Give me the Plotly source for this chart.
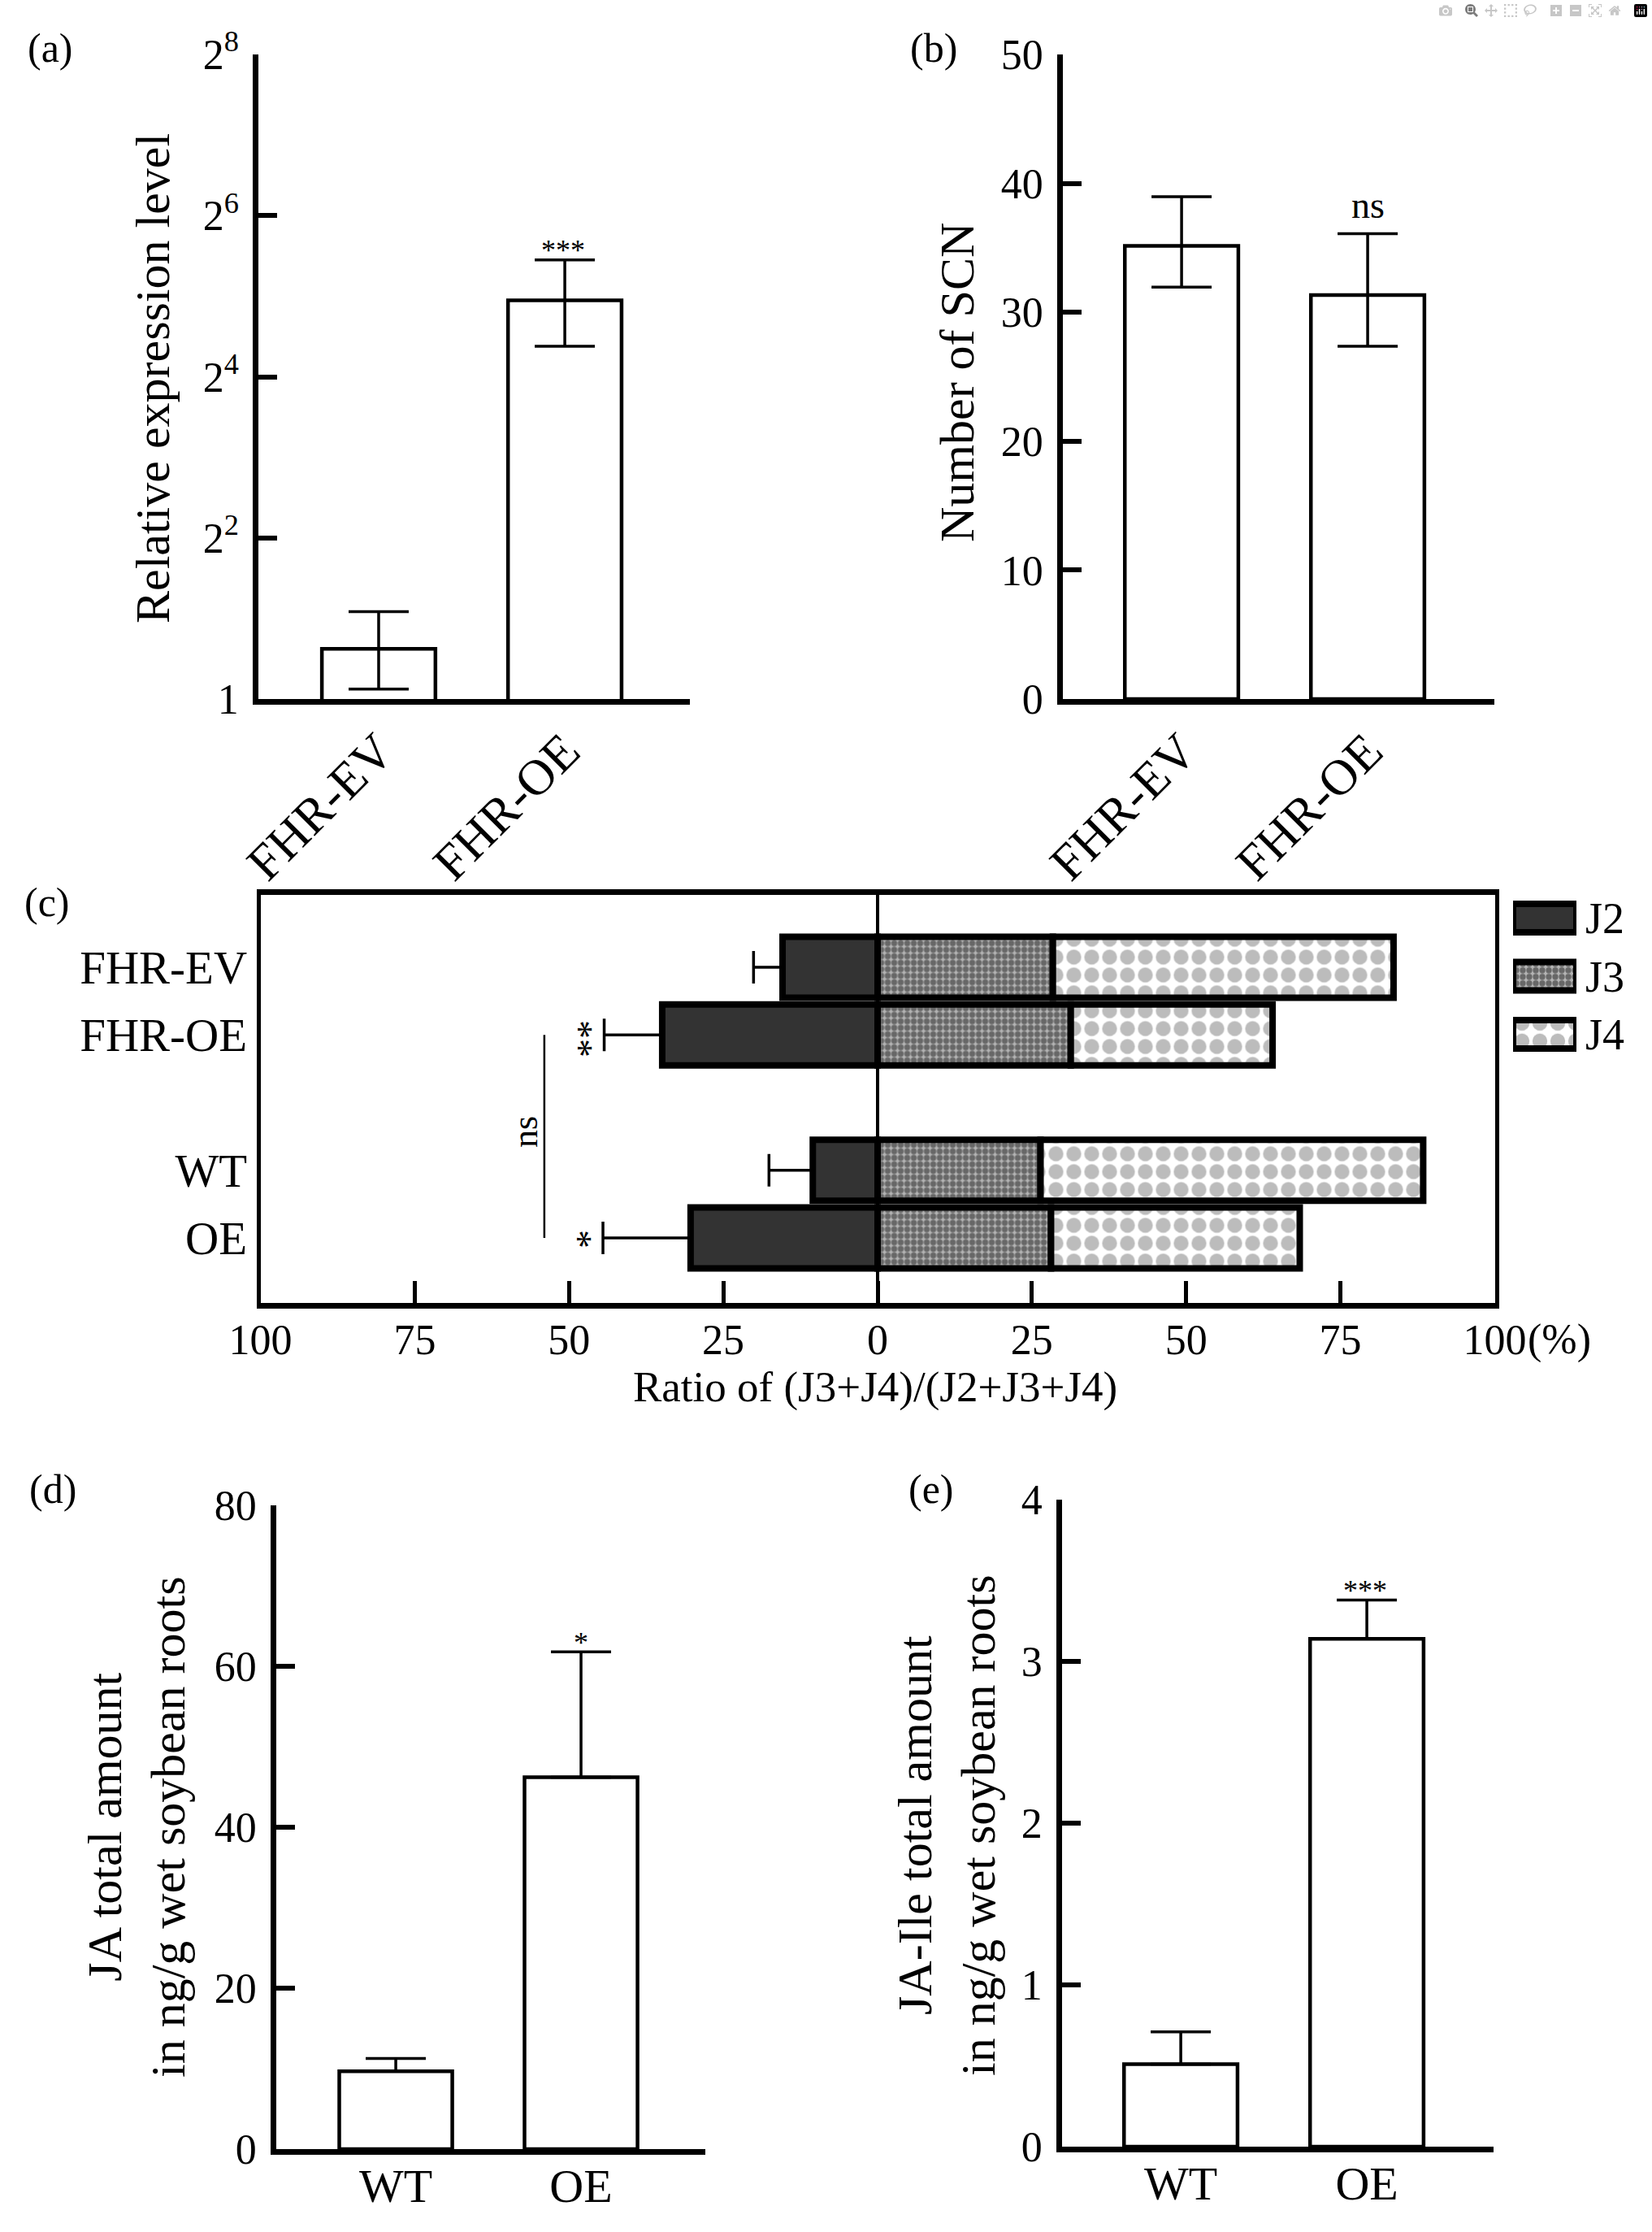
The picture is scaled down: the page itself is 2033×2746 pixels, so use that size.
import plotly.graph_objects as go

W, H = 2033, 2746
FONT = "Liberation Serif, Times New Roman, serif"

# ---------------- data ----------------
# (a) relative expression (log2 axis)
cats_ab = ["FHR-EV", "FHR-OE"]
a_vals = [1.54, 30.9]
a_err_hi = [2.12, 43.7]
a_err_lo = [1.09, 20.8]
a_ticks = [1, 4, 16, 64, 256]
a_ticktext = ["1", "2<sup>2</sup>", "2<sup>4</sup>", "2<sup>6</sup>", "2<sup>8</sup>"]

# (b) number of SCN
b_vals = [35.15, 31.34]
b_err_hi = [38.96, 36.1]
b_err_lo = [31.95, 27.36]

# (c) nematode stages (%)
c_cats = ["FHR-EV", "FHR-OE", " ", "WT", "OE"]
c_groups = ["FHR-EV", "FHR-OE", "WT", "OE"]
J2 = [15.4, 34.9, 10.5, 30.3]
J2_err = [4.7, 9.4, 7.1, 14.2]
J3 = [28.4, 31.3, 26.4, 28.1]
J4 = [55.2, 32.7, 62.0, 40.3]
c_tickvals = [-100, -75, -50, -25, 0, 25, 50, 75, 100]
c_ticktext = ["100", "75", "50", "25", "0", "25", "50", "75", "100"]
legend_names = ["J2", "J3", "J4"]
legend_swatch = [1]

# (d) JA
cats_de = ["WT", "OE"]
d_vals = [9.67, 46.2]
d_err = [1.6, 15.6]

# (e) JA-Ile
e_vals = [0.51, 3.14]
e_err = [0.20, 0.24]


def px(x):
    return x / W


def py(y):
    return 1 - y / H


def dom_x(a, b):
    return [px(a), px(b)]


def dom_y(top, bottom):
    return [py(bottom), py(top)]


bar_line = dict(color="black", width=4.5)
J3_pattern = dict(shape=".", bgcolor="#b4b4b4", fgcolor="#1a1a1a", size=8, solidity=0.65)
J4_pattern = dict(shape=".", bgcolor="white", fgcolor="#7a7a7a", size=22, solidity=0.55)

fig = go.Figure()

# (a)
fig.add_trace(go.Bar(
    x=cats_ab, y=a_vals, xaxis="x", yaxis="y", width=0.61,
    marker=dict(color="white", line=bar_line),
    error_y=dict(type="data", symmetric=False,
                 array=[h - v for h, v in zip(a_err_hi, a_vals)],
                 arrayminus=[v - l for l, v in zip(a_err_lo, a_vals)],
                 color="black", thickness=3.5, width=37),
    showlegend=False))

# (b)
fig.add_trace(go.Bar(
    x=cats_ab, y=b_vals, xaxis="x2", yaxis="y2", width=0.61,
    marker=dict(color="white", line=bar_line),
    error_y=dict(type="data", symmetric=False,
                 array=[h - v for h, v in zip(b_err_hi, b_vals)],
                 arrayminus=[v - l for l, v in zip(b_err_lo, b_vals)],
                 color="black", thickness=3.5, width=37),
    showlegend=False))

# (c)
fig.add_trace(go.Bar(
    y=c_groups, x=[-v for v in J2], orientation="h", xaxis="x3", yaxis="y3", width=0.9,
    marker=dict(color="#333333", line=dict(color="black", width=8)),
    error_x=dict(type="data", symmetric=False, array=[0] * len(J2), arrayminus=J2_err,
                 color="black", thickness=3.5, width=20),
    showlegend=False, name="J2"))
fig.add_trace(go.Bar(
    y=c_groups, x=J3, orientation="h", xaxis="x3", yaxis="y3", width=0.9,
    marker=dict(color="#b4b4b4", pattern=J3_pattern, line=dict(color="black", width=8)),
    showlegend=False, name="J3"))
fig.add_trace(go.Bar(
    y=c_groups, x=J4, orientation="h", xaxis="x3", yaxis="y3", width=0.9,
    marker=dict(color="white", pattern=J4_pattern, line=dict(color="black", width=8)),
    showlegend=False, name="J4"))

# legend swatches for (c)
leg_markers = [
    dict(color="#333333", line=dict(color="black", width=8)),
    dict(color="#b4b4b4", pattern=J3_pattern, line=dict(color="black", width=8)),
    dict(color="white", pattern=J4_pattern, line=dict(color="black", width=8)),
]
for nm, mk in zip(legend_names, leg_markers):
    fig.add_trace(go.Bar(y=[nm], x=legend_swatch, orientation="h", xaxis="x6", yaxis="y6",
                         width=0.49, marker=mk, showlegend=False))

# (d)
fig.add_trace(go.Bar(
    x=cats_de, y=d_vals, xaxis="x4", yaxis="y4", width=0.61,
    marker=dict(color="white", line=bar_line),
    error_y=dict(type="data", symmetric=False, array=d_err, arrayminus=[0, 0],
                 color="black", thickness=3.5, width=37),
    showlegend=False))

# (e)
fig.add_trace(go.Bar(
    x=cats_de, y=e_vals, xaxis="x5", yaxis="y5", width=0.61,
    marker=dict(color="white", line=bar_line),
    error_y=dict(type="data", symmetric=False, array=e_err, arrayminus=[0, 0],
                 color="black", thickness=3.5, width=37),
    showlegend=False))

axis_common = dict(showgrid=False, zeroline=False, showline=True, linecolor="black",
                   color="black", automargin=False)
ytick_font = dict(family=FONT, size=52, color="black")
xcat_font = dict(family=FONT, size=62, color="black")


def yax(domain, anchor, **kw):
    d = dict(axis_common, domain=domain, anchor=anchor, linewidth=6.5, ticks="inside",
             ticklen=23, tickwidth=6, tickcolor="black", tickfont=ytick_font,
             ticklabelstandoff=7)
    d.update(kw)
    return d


def xax(domain, anchor, rng, **kw):
    d = dict(axis_common, domain=domain, anchor=anchor, linewidth=6.5, ticks="",
             range=rng, tickfont=xcat_font)
    d.update(kw)
    return d


fig.update_layout(
    width=W, height=H, margin=dict(l=0, r=0, t=0, b=0, autoexpand=False),
    paper_bgcolor="white", plot_bgcolor="rgba(0,0,0,0)",
    barmode="relative", font=dict(family=FONT, color="black"),
    # (a)
    xaxis=xax(dom_x(318, 849), "y", [-0.646, 1.672], tickangle=-45, ticklabelstandoff=-4),
    yaxis=yax(dom_y(67, 860), "x", type="log", range=[0, 2.40824],
              tickvals=a_ticks, ticktext=a_ticktext),
    # (b)
    xaxis2=xax(dom_x(1308, 1839), "y2", [-0.638, 1.681], tickangle=-45, ticklabelstandoff=-4),
    yaxis2=yax(dom_y(67, 860), "x2", range=[0, 50], dtick=10, tick0=0),
    # (c)
    xaxis3=dict(axis_common, domain=dom_x(320.5, 1839.5), anchor="y3", range=[-100, 100],
                linewidth=7, mirror=True, ticks="inside", ticklen=27, tickwidth=5,
                tickcolor="black", tickvals=c_tickvals, ticktext=c_ticktext,
                tickfont=dict(family=FONT, size=52, color="black"),
                zeroline=True, zerolinecolor="black", zerolinewidth=3.5,
                ticklabelstandoff=-6),
    yaxis3=dict(axis_common, domain=dom_y(1100.5, 1602.5), anchor="x3", type="category",
                categoryorder="array", categoryarray=c_cats, range=[4.955, -1.075],
                linewidth=5, mirror=True, ticks="",
                tickfont=dict(family=FONT, size=57, color="black"), ticklabelstandoff=0),
    # legend swatches
    xaxis6=dict(domain=dom_x(1862, 1940), anchor="y6", range=[0, 1], visible=False,
                automargin=False),
    yaxis6=dict(domain=dom_y(1093.75, 1308.25), anchor="x6", type="category",
                categoryorder="array", categoryarray=legend_names, range=[2.5, -0.5],
                side="right", showline=False, showgrid=False, zeroline=False, ticks="",
                automargin=False,
                tickfont=dict(family=FONT, size=54, color="black"), ticklabelstandoff=10),
    # (d)
    xaxis4=xax(dom_x(340, 868), "y4", [-0.645, 1.671],
               tickfont=dict(family=FONT, size=58, color="black"), ticklabelstandoff=-11),
    yaxis4=yax(dom_y(1852, 2644), "x4", range=[0, 80], dtick=20, tick0=0),
    # (e)
    xaxis5=xax(dom_x(1307, 1838), "y5", [-0.638, 1.681],
               tickfont=dict(family=FONT, size=58, color="black"), ticklabelstandoff=-11),
    yaxis5=yax(dom_y(1845, 2641), "x5", range=[0, 4], dtick=1, tick0=0),
)


def ann(text, x, y, size, angle=0, xanchor="center", yanchor="middle"):
    fig.add_annotation(text=text, x=px(x), y=py(y), xref="paper", yref="paper",
                       showarrow=False, textangle=angle, xanchor=xanchor, yanchor=yanchor,
                       font=dict(family=FONT, size=size, color="black"))


# panel letters
ann("(a)", 62, 59, 50)
ann("(b)", 1149, 59, 50)
ann("(c)", 58, 1110, 50)
ann("(d)", 65, 1832, 50)
ann("(e)", 1146, 1832, 50)

# axis titles
ann("Relative expression level", 188, 466, 60, angle=-90)
ann("Number of SCN", 1178, 471, 60, angle=-90)
ann("Ratio of (J3+J4)/(J2+J3+J4)", 1077, 1706, 53)
ann("(%)", 1919, 1648, 52)
ann("JA total amount<br>in ng/g wet soybean roots", 168, 2248, 60, angle=-90)
ann("JA-Ile total amount<br>in ng/g wet soybean roots", 1165, 2246, 60, angle=-90)

# significance marks
ann("***", 693, 308, 36)
ann("ns", 1683, 252, 46)
ann("*", 715, 2021, 36)
ann("***", 1680, 1957, 36)
ann("**", 726, 1278, 46, angle=-90)
ann("*", 726, 1525, 46, angle=-90)
ann("ns", 646, 1393, 44, angle=-90)

# ns bracket line in (c)
fig.add_shape(type="line", xref="x3", yref="y3", x0=-54, x1=-54, y0="FHR-OE", y1="OE",
              line=dict(color="black", width=2.5))

fig.write_html("out.html",
               post_script="document.body.style.margin='0';document.body.style.padding='0';")
